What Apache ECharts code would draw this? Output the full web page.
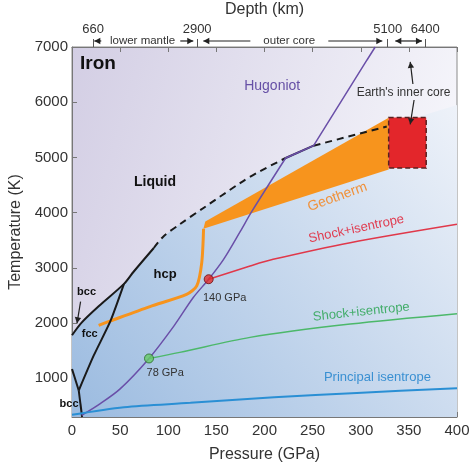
<!DOCTYPE html>
<html><head><meta charset="utf-8">
<script src="https://cdn.jsdelivr.net/npm/echarts@6/dist/echarts.min.js"></script>
<style>html,body{margin:0;padding:0;background:#fff}#c{width:474px;height:467px}</style>
</head><body><div id="c"></div>
<script>
// ---- data ----
const pressureTicks = [0, 50, 100, 150, 200, 250, 300, 350, 400];
const temperatureTicks = [1000, 2000, 3000, 4000, 5000, 6000, 7000];
const depthLabels = ['660', '2900', '5100', '6400'];
const depthPressure = [22, 130, 328, 367];

const meltingSolid = [[0, 1780], [10, 2010], [28, 2310], [54, 2710], [64, 2930], [85, 3360]];
const meltingDashed = [[85, 3360], [95, 3570], [112, 3790], [137, 4090], [175, 4540], [192, 4720], [222, 4990]];
const meltingOnHugoniot = [[222, 4990], [251, 5213]];
const meltingDashed2 = [[251, 5213], [327, 5560]];
const meltingBeyond = [[400, 5950]];

const fccHcp = [[7, 780], [22.5, 1410], [40, 2040], [54, 2710]];
const bccFcc = [[0, 1170], [7, 780]];
const bccHcp = [[7, 780], [10.5, 300]];

const hugoniotLow = [[10, 330], [29, 538], [50, 809], [80, 1360], [106, 1951], [126, 2464], [142, 2795], [157.5, 3155], [175, 3666], [187, 4027], [222, 4990]];
const hugoniotHigh = [[222, 4990], [251, 5213], [306.5, 6765], [315, 7000]];

const geotherm = [[27.7, 1960], [40, 2040], [81, 2300], [119, 2520], [129.6, 2673], [134.8, 3096], [136.7, 3710]];
const geothermBand = [[136.5, 3710], [138.5, 3840], [329, 5720], [329, 4780]];
const innerCoreP = [329, 368];
const innerCoreT = [4810, 5724];

const shockRed = [[142, 2795], [185, 3034], [209, 3155], [289, 3457], [400, 3790]];
const shockGreen = [[80, 1360], [112, 1470], [185, 1742], [289, 1982], [400, 2170]];
const principalIsentrope = [[0, 340], [54, 478], [123, 556], [210, 659], [296, 736], [400, 821]];
const shockPointRed = [142, 2795];
const shockPointGreen = [80, 1360];

// ---- chart ----
const FONT = '"Liberation Sans", Arial, sans-serif';
const chart = echarts.init(document.getElementById('c'));
const G = echarts.graphic;

function lineSeries(data, color, width, opts) {
  return Object.assign({
    type: 'line', data: data, showSymbol: false, symbol: 'none', silent: true,
    lineStyle: { color: color, width: width }, z: 3, animation: false
  }, opts || {});
}

const solidFill = meltingSolid.concat(meltingDashed.slice(1), meltingOnHugoniot.slice(1), meltingDashed2.slice(1), meltingBeyond);

const option = {
  animation: false,
  grid: {
    left: 72, right: 17, top: 47, bottom: 50, show: true, containLabel: false, outerBoundsMode: 'none',
    borderColor: '#8a8a8a', borderWidth: 1,
    backgroundColor: new G.LinearGradient(0, 0, 1, 0.3, [
      { offset: 0, color: '#d3cee4' }, { offset: 1, color: '#f6f6fb' }])
  },
  xAxis: [
    {
      type: 'value', min: 0, max: 400, interval: 50, position: 'bottom',
      name: 'Pressure (GPa)', nameLocation: 'middle', nameGap: 30,
      nameTextStyle: { fontSize: 16, color: '#333', fontFamily: FONT },
      axisLine: { lineStyle: { color: '#777' } },
      axisTick: { inside: true, length: 5, lineStyle: { color: '#777' } },
      axisLabel: { fontSize: 15, color: '#333', margin: 6, fontFamily: FONT },
      splitLine: { show: false }
    },
    {
      type: 'value', min: 0, max: 400, interval: 50, position: 'top',
      axisLine: { lineStyle: { color: '#777' } },
      axisTick: { inside: true, length: 5, lineStyle: { color: '#777' } },
      axisLabel: { show: false }, splitLine: { show: false }
    },
    {
      type: 'value', min: 0, max: 400, position: 'top',
      name: 'Depth (km)', nameLocation: 'middle', nameGap: 29,
      nameTextStyle: { fontSize: 16, color: '#333', fontFamily: FONT },
      axisLine: { show: false },
      axisTick: { show: true, customValues: depthPressure, length: 8, lineStyle: { color: '#555' } },
      axisLabel: {
        customValues: depthPressure, margin: 11, fontSize: 13, color: '#333', fontFamily: FONT,
        formatter: function (v) { const i = depthPressure.indexOf(v); return i >= 0 ? depthLabels[i] : ''; }
      },
      splitLine: { show: false }
    }
  ],
  yAxis: [{
    type: 'value', min: 300, max: 7000,
    name: 'Temperature (K)', nameLocation: 'middle', nameGap: 48,
    nameTextStyle: { fontSize: 16, color: '#333', fontFamily: FONT },
    axisLine: { show: true, lineStyle: { color: '#777' } },
    axisTick: { show: true, inside: true, length: 5, customValues: temperatureTicks, lineStyle: { color: '#777' } },
    axisLabel: { customValues: temperatureTicks, fontSize: 15, color: '#333', margin: 4, fontFamily: FONT,
      formatter: function (v) { return String(v); } },
    splitLine: { show: false }
  }],
  series: [
    lineSeries(solidFill, 'transparent', 0, {
      z: 1,
      areaStyle: {
        origin: 'start', opacity: 1,
        color: new G.LinearGradient(0, 1, 1, 0, [
          { offset: 0, color: '#9bbbe0' }, { offset: 1, color: '#eef2f9' }])
      }
    }),
    {
      type: 'custom', data: geothermBand, z: 3, silent: true, encode: { x: 0, y: 1 },
      renderItem: function (params, api) {
        if (params.dataIndex !== 0) return null;
        return { type: 'polygon', shape: { points: geothermBand.map(function (p) { return api.coord(p); }) }, style: { fill: '#f7941d' } };
      }
    },
    lineSeries(geotherm, '#f7941d', 3, { smooth: 0.25 }),
    lineSeries(meltingSolid, '#1a1a1a', 2, { smooth: 0.3, z: 4 }),
    lineSeries(meltingDashed, '#1a1a1a', 2, { smooth: 0.3, z: 4, lineStyle: { color: '#1a1a1a', width: 2, type: [7, 5] } }),
    lineSeries(meltingOnHugoniot, '#2a2040', 2, { z: 5 }),
    lineSeries(meltingDashed2, '#1a1a1a', 2, { z: 4, lineStyle: { color: '#1a1a1a', width: 2, type: [7, 5] } }),
    lineSeries(fccHcp, '#1a1a1a', 2, { smooth: 0.2, z: 4 }),
    lineSeries(bccFcc, '#1a1a1a', 2, { z: 4 }),
    lineSeries(bccHcp, '#1a1a1a', 2, { z: 4 }),
    lineSeries(hugoniotLow, '#6a4fa8', 1.5, { smooth: 0.3, z: 5 }),
    lineSeries(hugoniotHigh, '#6a4fa8', 1.5, { z: 5 }),
    {
      type: 'custom', data: [[innerCoreP[0], innerCoreT[0], innerCoreP[1], innerCoreT[1]]], z: 6, silent: true,
      encode: { x: [0, 2], y: [1, 3] },
      renderItem: function (params, api) {
        const a = api.coord([api.value(0), api.value(3)]);
        const b = api.coord([api.value(2), api.value(1)]);
        return { type: 'rect', shape: { x: a[0], y: a[1], width: b[0] - a[0], height: b[1] - a[1] },
          style: { fill: '#e3262b', stroke: '#5a2020', lineWidth: 1.5, lineDash: [5, 3] } };
      }
    },
    lineSeries(shockRed, '#e0384a', 1.5, { smooth: 0.3, z: 5 }),
    lineSeries(shockGreen, '#4cb86a', 1.5, { smooth: 0.3, z: 5 }),
    lineSeries(principalIsentrope, '#2a8fd4', 2, { smooth: 0.3, z: 5 }),
    { type: 'scatter', data: [shockPointRed], symbolSize: 9, z: 7, silent: true,
      itemStyle: { color: '#e02a2a', borderColor: '#6a1010', borderWidth: 1 } },
    { type: 'scatter', data: [shockPointGreen], symbolSize: 9, z: 7, silent: true,
      itemStyle: { color: '#66cc66', borderColor: '#2a6a2a', borderWidth: 1 } }
  ]
};
chart.setOption(option);

// ---- annotations placed in data coordinates ----
function px(p) { return chart.convertToPixel({ xAxisIndex: 0, yAxisIndex: 0 }, p); }
function txt(s, at, font, color, opts) {
  const q = px(at);
  opts = opts || {};
  return {
    type: 'text', x: q[0], y: q[1], z: 100, rotation: (opts.rot || 0) * Math.PI / 180, silent: true,
    style: { text: s, fill: color, font: font + ' ' + FONT,
      align: opts.align || 'center', textAlign: opts.align || 'center',
      verticalAlign: 'middle', textVerticalAlign: 'middle' }
  };
}
function arrow(from, to, color, width, both) {
  const a = px(from), b = px(to);
  const els = [{ type: 'line', z: 100, silent: true, shape: { x1: a[0], y1: a[1], x2: b[0], y2: b[1] }, style: { stroke: color, lineWidth: width } }];
  function head(p, q) {
    const dx = q[0] - p[0], dy = q[1] - p[1], L = Math.hypot(dx, dy), ux = dx / L, uy = dy / L, hl = 6, hw = 3.2;
    return { type: 'polygon', z: 100, silent: true, shape: { points: [[q[0], q[1]], [q[0] - ux * hl - uy * hw, q[1] - uy * hl + ux * hw], [q[0] - ux * hl + uy * hw, q[1] - uy * hl - ux * hw]] }, style: { fill: color } };
  }
  els.push(head(a, b));
  if (both) els.push(head(b, a));
  return els;
}
const TOP = 7109;
let els = [
  txt('Iron', [8.3, 6692], 'bold 19px', '#111', { align: 'left' }),
  txt('Liquid', [86.3, 4555], 'bold 14px', '#111'),
  txt('hcp', [96.8, 2889], 'bold 13px', '#111'),
  txt('bcc', [15.1, 2563], 'bold 11px', '#111'),
  txt('fcc', [18.4, 1803], 'bold 11px', '#111'),
  txt('bcc', [-3.1, 535], 'bold 11px', '#111'),
  txt('Hugoniot', [208, 6294], '14px', '#6650a6'),
  txt("Earth's inner core", [344.4, 6167], '12px', '#333'),
  txt('Geotherm', [275.7, 4284], '14px', '#f0913a', { rot: 20 }),
  txt('Shock+isentrope', [295.4, 3704], '13px', '#e03c50', { rot: 12 }),
  txt('Shock+isentrope', [300.6, 2201], '13px', '#43ad6a', { rot: 6 }),
  txt('Principal isentrope', [317.3, 1024], '13px', '#3a90d2'),
  txt('140 GPa', [158.6, 2455], '11px', '#333'),
  txt('78 GPa', [96.8, 1097], '11px', '#333'),
  txt('lower mantle', [73.3, TOP], '11.5px', '#333'),
  txt('outer core', [225.7, TOP], '11.5px', '#333')
];
els = els.concat(
  arrow([30.4, TOP], [23.2, TOP], '#222', 1.2),
  arrow([112.5, TOP], [126, TOP], '#222', 1.2),
  arrow([185.3, TOP], [136.4, TOP], '#222', 1.2),
  arrow([266.3, TOP], [322.4, TOP], '#222', 1.2),
  arrow([335.9, TOP], [363.6, TOP], '#222', 1.2, true),
  arrow([354.2, 6330], [351.4, 6730], '#222', 1.2),
  arrow([355.4, 6040], [351.4, 5600], '#222', 1.2),
  arrow([8.9, 2388], [5.2, 1997], '#222', 1.2)
);
chart.setOption({ graphic: { elements: els } });
</script>
</body></html>
